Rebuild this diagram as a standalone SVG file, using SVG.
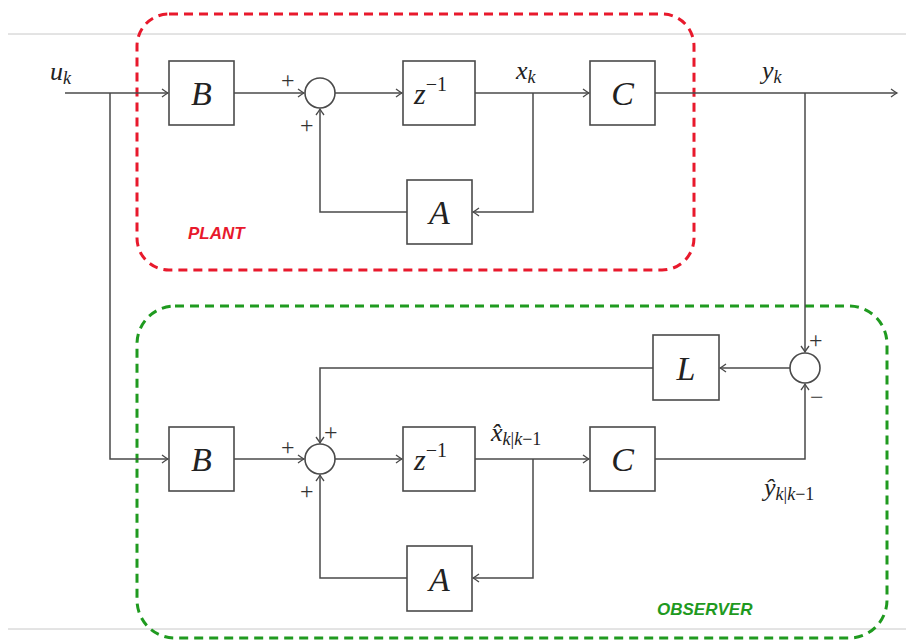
<svg xmlns="http://www.w3.org/2000/svg" width="906" height="640" viewBox="0 0 906 640">
<style>
.ln{fill:none;stroke:#4a4a4a;stroke-width:1.5}
.bx{fill:#fff;stroke:#4a4a4a;stroke-width:1.6}
.m{font-family:"Liberation Serif","DejaVu Serif",serif;font-style:italic;fill:#222}
.big{font-size:34px}
.lab{font-size:26px}
.sub{font-size:18px}
.up{font-style:normal}
.pm{font-family:"Liberation Serif","DejaVu Serif",serif;font-size:24px;fill:#333}
.tag{font-family:"Liberation Sans",Arial,sans-serif;font-style:italic;font-weight:bold;font-size:17px}
</style>
<defs>
<marker id="ar" markerUnits="userSpaceOnUse" markerWidth="14" markerHeight="12" viewBox="-8 -6 10 12" refX="0" refY="0" orient="auto">
<path d="M-6,-4 Q-2,-1 0,0 Q-2,1 -6,4" fill="none" stroke="#4a4a4a" stroke-width="1.3"/>
</marker>
</defs>
<rect width="906" height="640" fill="#fff"/>
<line x1="8" y1="34" x2="906" y2="34" stroke="#c8c8c8" stroke-width="1"/>
<line x1="8" y1="629" x2="906" y2="629" stroke="#c8c8c8" stroke-width="1"/>

<g id="plant-frame">
<rect x="137" y="14" width="557" height="256" rx="32" fill="none" stroke="#e8192c" stroke-width="3" stroke-dasharray="9 6"/>
<text x="188" y="239" class="tag" fill="#e8192c">PLANT</text>
</g>
<g id="observer-frame">
<rect x="137" y="306" width="750" height="332" rx="38" fill="none" stroke="#1f9a1f" stroke-width="3" stroke-dasharray="9 6"/>
<text x="657" y="615" class="tag" fill="#1f9a1f">OBSERVER</text>
</g>

<g id="connectors">
<path class="ln" d="M65,93 H168" marker-end="url(#ar)"/>
<path class="ln" d="M110,93 V459 H168" marker-end="url(#ar)"/>
<path class="ln" d="M234,93 H304" marker-end="url(#ar)"/>
<path class="ln" d="M335,93 H402" marker-end="url(#ar)"/>
<path class="ln" d="M475,93 H589" marker-end="url(#ar)"/>
<path class="ln" d="M533,93 V212 H473" marker-end="url(#ar)"/>
<path class="ln" d="M407,212 H320 V109" marker-end="url(#ar)"/>
<path class="ln" d="M655,93 H897" marker-end="url(#ar)"/>
<path class="ln" d="M805,93 V352" marker-end="url(#ar)"/>
<path class="ln" d="M234,459 H304" marker-end="url(#ar)"/>
<path class="ln" d="M335,459 H402" marker-end="url(#ar)"/>
<path class="ln" d="M475,459 H589" marker-end="url(#ar)"/>
<path class="ln" d="M533,459 V578 H473" marker-end="url(#ar)"/>
<path class="ln" d="M407,578 H320 V475" marker-end="url(#ar)"/>
<path class="ln" d="M655,459 H805 V384" marker-end="url(#ar)"/>
<path class="ln" d="M790,368 H720" marker-end="url(#ar)"/>
<path class="ln" d="M653,368 H320 V443" marker-end="url(#ar)"/>
</g>

<g id="u-label"><text x="50" y="80" class="m lab">u<tspan class="sub" dy="4">k</tspan></text></g>
<g id="B1"><rect class="bx" x="169" y="61" width="65" height="64"/><text x="201.5" y="105" class="m big" text-anchor="middle">B</text></g>
<g id="sum1"><circle class="bx" cx="320" cy="93" r="15"/><text x="281" y="88" class="pm">+</text><text x="300" y="133" class="pm">+</text></g>
<g id="Z1"><rect class="bx" x="403" y="61" width="72" height="64"/><text x="414" y="104" class="m" font-size="30">z<tspan class="up" font-size="20" dy="-13">−1</tspan></text></g>
<g id="x-label"><text x="516" y="79" class="m lab">x<tspan class="sub" dy="4">k</tspan></text></g>
<g id="C1"><rect class="bx" x="590" y="61" width="65" height="64"/><text x="622.5" y="105" class="m big" text-anchor="middle">C</text></g>
<g id="y-label"><text x="762" y="79" class="m lab">y<tspan class="sub" dy="4">k</tspan></text></g>
<g id="A1"><rect class="bx" x="407" y="180" width="65" height="64"/><text x="439.5" y="224" class="m big" text-anchor="middle">A</text></g>

<g id="B2"><rect class="bx" x="169" y="427" width="65" height="64"/><text x="201.5" y="471" class="m big" text-anchor="middle">B</text></g>
<g id="sum2"><circle class="bx" cx="320" cy="459" r="15"/><text x="281" y="455" class="pm">+</text><text x="324" y="440" class="pm">+</text><text x="300" y="499" class="pm">+</text></g>
<g id="Z2"><rect class="bx" x="403" y="427" width="72" height="64"/><text x="414" y="470" class="m" font-size="30">z<tspan class="up" font-size="20" dy="-13">−1</tspan></text></g>
<g id="xhat-label"><text x="491" y="441" class="m lab">x̂<tspan class="sub" dy="4">k<tspan class="up">|</tspan>k<tspan class="up">−1</tspan></tspan></text></g>
<g id="C2"><rect class="bx" x="590" y="427" width="65" height="64"/><text x="622.5" y="471" class="m big" text-anchor="middle">C</text></g>
<g id="A2"><rect class="bx" x="407" y="546" width="65" height="65"/><text x="439.5" y="591" class="m big" text-anchor="middle">A</text></g>
<g id="L"><rect class="bx" x="653" y="335" width="66" height="65"/><text x="686" y="380" class="m big" text-anchor="middle">L</text></g>
<g id="sum3"><circle class="bx" cx="805" cy="368" r="15"/><text x="809" y="348" class="pm">+</text><text x="810" y="405" class="pm">−</text></g>
<g id="yhat-label"><text x="764" y="496" class="m lab">ŷ<tspan class="sub" dy="4">k<tspan class="up">|</tspan>k<tspan class="up">−1</tspan></tspan></text></g>
</svg>
